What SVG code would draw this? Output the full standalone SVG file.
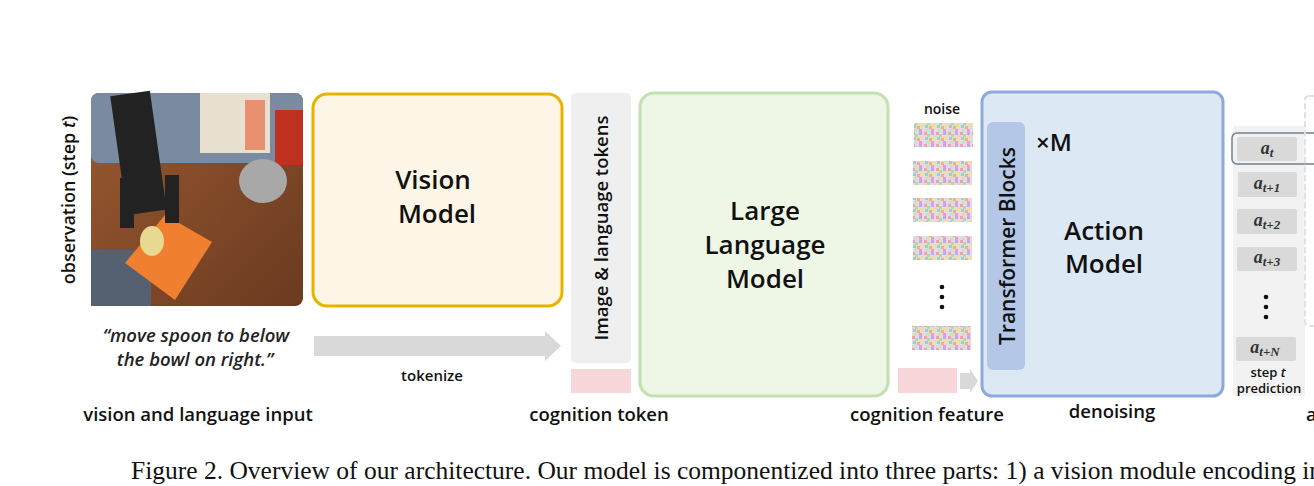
<svg xmlns="http://www.w3.org/2000/svg" width="1314" height="486" viewBox="0 0 1314 486">
<style>
.s{font-family:"Open Sans","Lato",sans-serif;font-weight:600;fill:#111}
.big{font-size:26px;font-weight:600}
.lbl{font-size:18.5px}
.m{font-family:"Open Sans",sans-serif;font-weight:600;font-style:italic;font-size:18.5px;fill:#222}
.tok{fill:#d9d9d9}
</style>
<defs>
<pattern id="nz" width="12" height="12" patternUnits="userSpaceOnUse">
<rect width="12" height="12" fill="#e8d8e0"/>
<rect x="0" y="0" width="3" height="3" fill="#f4a0b0"/><rect x="3" y="2" width="3" height="3" fill="#a8e0a0"/>
<rect x="7" y="0" width="3" height="3" fill="#c0a8f0"/><rect x="9" y="4" width="3" height="3" fill="#f0e090"/>
<rect x="1" y="5" width="3" height="3" fill="#90d0e8"/><rect x="5" y="6" width="3" height="3" fill="#f0b080"/>
<rect x="2" y="9" width="3" height="3" fill="#b0f0c0"/><rect x="7" y="9" width="3" height="3" fill="#e0a0e0"/>
</pattern>
<linearGradient id="tbl" x1="0" y1="0" x2="1" y2="1"><stop offset="0" stop-color="#9a5a30"/><stop offset="1" stop-color="#6a3a20"/></linearGradient>
</defs>
<g id="photo">
<rect x="91" y="93" width="212" height="213" rx="8" fill="url(#tbl)"/>
<rect x="91" y="93" width="212" height="70" rx="8" fill="#7a8aa0"/>
<rect x="200" y="93" width="70" height="60" fill="#e8e0d0"/>
<rect x="245" y="100" width="20" height="50" fill="#e89070"/>
<rect x="275" y="110" width="28" height="55" fill="#c03020"/>
<rect x="91" y="250" width="60" height="56" fill="#556070"/>
<ellipse cx="263" cy="181" rx="24" ry="22" fill="#a8a8a8"/>
<path d="M125 263 L165 215 L212 242 L175 300 Z" fill="#f08030"/>
<ellipse cx="152" cy="241" rx="12" ry="15" fill="#e8d890"/>
<rect x="118" y="93" width="40" height="120" fill="#222" transform="rotate(-8 138 150)"/>
<rect x="165" y="175" width="14" height="48" fill="#222"/>
<rect x="120" y="178" width="14" height="50" fill="#222"/>
</g>
<text class="s" font-size="18" transform="translate(75 200) rotate(-90)" text-anchor="middle">observation (step <tspan font-style="italic">t</tspan>)</text>
<g id="vision">
<rect x="313" y="94" width="249" height="212" rx="14" fill="#fdf6e6" stroke="#e6b400" stroke-width="3"/>
<text class="s big" x="433" y="189" text-anchor="middle">Vision</text>
<text class="s big" x="437" y="223" text-anchor="middle">Model</text>
</g>
<text class="m" x="196" y="342" text-anchor="middle">“move spoon to below</text>
<text class="m" x="195" y="366" text-anchor="middle">the bowl on right.”</text>
<g id="connectors">
<path d="M314 336 H545 V331 L561 346 L545 361 V356 H314 Z" fill="#d9d9d9"/>
<path d="M960 373 H970 V369 L978 381 L970 393 V389 H960 Z" fill="#d9d9d9"/>
</g>
<text class="s" font-size="15" x="432" y="381" text-anchor="middle">tokenize</text>
<g id="tokens">
<rect x="571" y="93" width="60" height="270" rx="5" fill="#efefef"/>
<text class="s" font-size="18.5" transform="translate(608 228) rotate(-90)" text-anchor="middle">Image &amp; language tokens</text>
<rect x="571" y="369" width="60" height="24" fill="#f7d7da"/>
</g>
<g id="llm">
<rect x="640" y="93" width="248" height="303" rx="14" fill="#eef6e6" stroke="#c5e0b0" stroke-width="3"/>
<text class="s big" x="765" y="220" text-anchor="middle">Large</text>
<text class="s big" x="765" y="254" text-anchor="middle">Language</text>
<text class="s big" x="765" y="288" text-anchor="middle">Model</text>
</g>
<g id="noise">
<text class="s" font-size="14" x="942" y="114" text-anchor="middle">noise</text>
<rect x="914" y="123" width="59" height="24" fill="url(#nz)"/>
<rect x="913" y="161" width="59" height="24" fill="url(#nz)"/>
<rect x="913" y="198" width="59" height="24" fill="url(#nz)"/>
<rect x="913" y="236" width="59" height="24" fill="url(#nz)"/>
<circle cx="942" cy="287" r="2.3" fill="#111"/><circle cx="942" cy="297" r="2.3" fill="#111"/><circle cx="942" cy="307" r="2.3" fill="#111"/>
<rect x="912" y="326" width="59" height="24" fill="url(#nz)"/>
<rect x="898" y="368" width="59" height="25" fill="#f7d7da"/>
</g>
<g id="action">
<rect x="982" y="92" width="241" height="304" rx="10" fill="#dde8f5" stroke="#8eaadb" stroke-width="3"/>
<rect x="987" y="122" width="38" height="248" rx="6" fill="#b4c7e7"/>
<text class="s" font-size="21" transform="translate(1015 246) rotate(-90)" text-anchor="middle">Transformer Blocks</text>
<text class="s" font-size="24" x="1036" y="151">×M</text>
<text class="s big" x="1104" y="240" text-anchor="middle">Action</text>
<text class="s big" x="1104" y="273" text-anchor="middle">Model</text>
</g>
<g id="actions">
<rect x="1233" y="126" width="72" height="270" fill="#f2f2f2"/>
<rect x="1232" y="133" width="90" height="31" rx="5" fill="none" stroke="#6f7f8f" stroke-width="1.5"/>
<rect x="1237" y="137" width="60" height="24" rx="2" class="tok"/>
<rect x="1238" y="172" width="59" height="25" rx="2" class="tok"/>
<rect x="1237" y="209" width="60" height="25" rx="2" class="tok"/>
<rect x="1237" y="247" width="60" height="24" rx="2" class="tok"/>
<rect x="1236" y="337" width="60" height="24" rx="2" class="tok"/>
<g font-family="Liberation Serif,serif" font-weight="bold" font-style="italic" font-size="18" fill="#333" text-anchor="middle">
<text x="1267" y="154">a<tspan font-size="13" dy="3">t</tspan></text>
<text x="1267" y="189">a<tspan font-size="13" dy="3">t+1</tspan></text>
<text x="1267" y="226">a<tspan font-size="13" dy="3">t+2</tspan></text>
<text x="1267" y="263">a<tspan font-size="13" dy="3">t+3</tspan></text>
<text x="1265" y="353">a<tspan font-size="13" dy="3">t+N</tspan></text>
</g>
<circle cx="1266" cy="297" r="2.3" fill="#111"/><circle cx="1266" cy="307" r="2.3" fill="#111"/><circle cx="1266" cy="317" r="2.3" fill="#111"/>
<text class="s" font-size="13" x="1268" y="377" text-anchor="middle">step <tspan font-style="italic">t</tspan></text>
<text class="s" font-size="13" x="1269" y="393" text-anchor="middle">prediction</text>
<rect x="1305" y="96" width="20" height="230" rx="4" fill="none" stroke="#dde2e6" stroke-width="2" stroke-dasharray="6 3"/>
</g>
<g class="s lbl">
<text x="198" y="421" text-anchor="middle">vision and language input</text>
<text x="599" y="421" text-anchor="middle">cognition token</text>
<text x="927" y="421" text-anchor="middle">cognition feature</text>
<text x="1112" y="418" text-anchor="middle">denoising</text>
<text x="1306" y="421">a</text>
</g>
<text x="131" y="479" font-family="Liberation Serif,serif" font-size="25.5" fill="#111">Figure 2. Overview of our architecture. Our model is componentized into three parts: 1) a vision module encoding in</text>
</svg>
